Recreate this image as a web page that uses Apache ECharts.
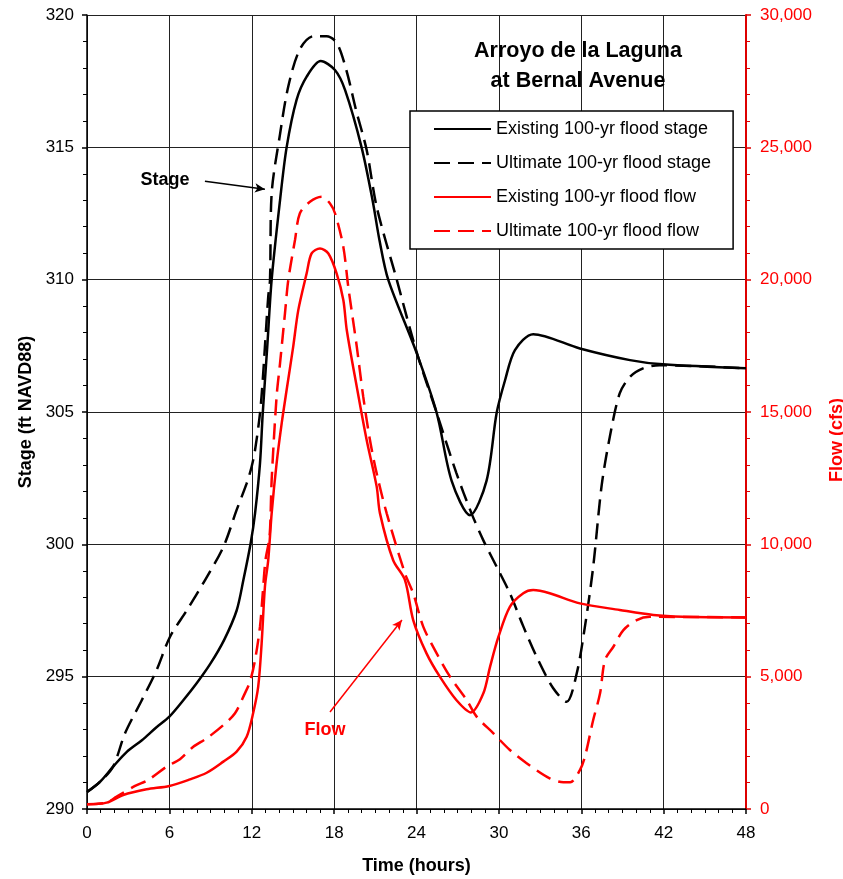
<!DOCTYPE html>
<html><head><meta charset="utf-8">
<script src="https://cdn.jsdelivr.net/npm/echarts@6/dist/echarts.min.js"></script>
<style>html,body{margin:0;padding:0;background:#fff}#c{width:843px;height:879px}</style>
</head><body><div id="c"></div>
<script>
// Time (hours), value pairs
var existingStage = [[0,290.64],[0.95,291.03],[1.9,291.6],[2.9,292.16],[4,292.6],[5,293.06],[6,293.49],[7,294.1],[8,294.76],[9,295.5],[10,296.4],[10.9,297.5],[11.39,298.65],[11.92,300.04],[12.24,301.17],[12.6,303.06],[12.8,304.95],[13.13,307.47],[13.45,310.0],[14.06,313.0],[14.54,315.0],[15.27,316.8],[16.0,317.67],[17.02,318.26],[18.06,317.92],[18.8,317.16],[20.0,315.0],[20.8,313.0],[21.3,311.5],[21.94,310.0],[23.96,307.3],[25.47,304.97],[26.56,302.4],[27.9,301.1],[29.1,302.4],[29.84,304.97],[30.45,306.2],[31.17,307.34],[32.5,307.94],[35.9,307.4],[39.55,306.96],[41.95,306.8],[48,306.65]];
var ultimateStage = [[0,290.64],[0.95,291.03],[1.9,291.6],[2.77,292.86],[3.98,294.1],[5.07,295.25],[6.04,296.5],[7.26,297.5],[8.6,298.65],[9.93,299.9],[10.9,301.3],[11.63,302.3],[11.99,302.93],[12.24,303.56],[12.6,304.95],[12.8,306.2],[12.96,307.47],[13.2,309.35],[13.33,310.0],[13.45,313.26],[14.06,315.5],[14.66,317.3],[15.5,318.7],[16.5,319.2],[17.45,319.2],[18.2,318.94],[18.9,317.9],[19.6,316.4],[20.37,314.9],[21.1,312.75],[22.56,310.0],[24.0,307.28],[25.47,304.97],[26.9,302.7],[28.0,301.18],[28.86,300.16],[29.84,299.15],[30.8,298.15],[31.78,296.9],[32.75,295.75],[33.96,294.56],[34.93,294.05],[35.66,295.1],[36.27,296.9],[36.87,299.15],[37.48,302.2],[38.08,304.06],[38.8,305.7],[39.55,306.33],[40.5,306.65],[41.7,306.77],[48,306.65]];
var existingFlow = [[0,177],[1.43,240],[2.64,530],[4.34,744],[6.0,870],[7.5,1120],[8.72,1370],[9.93,1790],[10.9,2170],[11.63,2730],[12.1,3615],[12.47,4620],[12.72,6260],[12.96,8400],[13.2,9400],[13.45,11170],[13.81,13060],[14.18,14570],[14.54,15830],[15.02,17470],[15.39,18850],[16.0,20240],[16.36,20990],[16.97,21180],[17.58,20990],[18.18,20240],[18.67,19230],[18.92,18100],[19.65,15950],[20.37,13940],[21.1,12180],[21.34,11170],[22.3,9400],[23.16,8650],[23.76,7140],[24.73,5880],[25.7,5000],[26.9,4120],[27.97,3650],[28.87,4370],[29.36,5380],[29.97,6510],[30.8,7640],[31.78,8150],[32.5,8270],[33.7,8150],[35.9,7770],[38.8,7520],[41.25,7330],[43.4,7265],[48,7240]];
var ultimateFlow = [[0,177],[1.43,240],[2.16,465],[3.5,870],[4.46,1100],[5.8,1600],[6.77,1880],[7.74,2350],[8.72,2670],[9.93,3170],[10.78,3615],[11.5,4370],[11.87,4810],[12.24,5630],[12.6,6890],[12.8,8150],[13.0,9400],[13.3,10300],[13.45,12430],[13.81,15580],[14.06,16840],[14.42,18730],[14.66,19980],[15.15,21500],[15.5,22500],[16.24,22940],[17.1,23130],[17.7,22880],[18.07,22500],[18.67,21240],[19.03,19730],[19.65,17470],[20.12,15580],[20.61,13940],[21.1,12680],[21.83,11170],[23.16,8900],[23.76,8150],[24.49,6890],[25.47,5880],[26.44,5000],[27.65,4120],[28.38,3490],[29.6,2860],[30.8,2230],[32.02,1730],[33.7,1160],[34.7,1010],[35.2,1010],[35.9,1470],[36.27,1980],[36.87,3360],[37.37,4370],[37.73,5630],[38.34,6130],[39.07,6760],[40.04,7140],[41,7260],[48,7240]];
var seriesNames = ['Existing 100-yr flood stage','Ultimate 100-yr flood stage','Existing 100-yr flood flow','Ultimate 100-yr flood flow'];
var titleLines = ['Arroyo de la Laguna','at Bernal Avenue'];
var stageArrow = [[8.59,313.72],[12.96,313.42]];
var stageLabel = [5.68,313.76];
var flowArrow = [[17.7,3665],[22.94,7140]];
var flowLabel = [17.33,2985];

var FONT = '"Liberation Sans", Arial, sans-serif';
var chart = echarts.init(document.getElementById('c'), null, {renderer:'canvas'});
function thousands(v){return v.toString().replace(/\B(?=(\d{3})+(?!\d))/g, ',');}
chart.setOption({
  animation:false,
  textStyle:{fontFamily:FONT},
  title:{text:titleLines.join('\n'), left:573, textAlign:'center', top:31,
    textStyle:{fontFamily:FONT, fontSize:21.5, fontWeight:'bold', color:'#000', lineHeight:30}},
  legend:{orient:'vertical', left:410, top:111,
    backgroundColor:'#fff', borderColor:'#000', borderWidth:1.5,
    padding:[8,22,8,23], itemWidth:57, itemHeight:20, itemGap:14,
    itemStyle:{opacity:0},
    textStyle:{fontFamily:FONT, fontSize:18, color:'#000', lineHeight:20},
    data:seriesNames},
  grid:{left:87, right:97, top:15, bottom:70, containLabel:false, outerBoundsMode:'none'},
  xAxis:{type:'value', min:0, max:48, interval:6,
    name:'Time (hours)', nameLocation:'middle', nameGap:48,
    nameTextStyle:{fontFamily:FONT, fontSize:18, fontWeight:'bold', color:'#000'},
    axisLine:{onZero:false, lineStyle:{color:'#000', width:1.5}},
    axisTick:{length:5, lineStyle:{color:'#000', width:1.5}},
    minorTick:{show:true, splitNumber:6, length:4, lineStyle:{color:'#000', width:1}},
    axisLabel:{fontFamily:FONT, fontSize:17, color:'#000', margin:16},
    splitLine:{show:true, lineStyle:{color:'#222', width:1}}},
  yAxis:[{type:'value', min:290, max:320, interval:5, position:'left',
    name:'Stage (ft NAVD88)', nameLocation:'middle', nameGap:52, nameRotate:90,
    nameTextStyle:{fontFamily:FONT, fontSize:18, fontWeight:'bold', color:'#000'},
    axisLine:{show:true, lineStyle:{color:'#000', width:1.5}},
    axisTick:{show:true, length:5, lineStyle:{color:'#000', width:1.5}},
    minorTick:{show:true, splitNumber:5, length:4, lineStyle:{color:'#000', width:1}},
    axisLabel:{fontFamily:FONT, fontSize:17, color:'#000', margin:13},
    splitLine:{show:true, lineStyle:{color:'#222', width:1}}},
   {type:'value', min:0, max:30000, interval:5000, position:'right',
    name:'Flow (cfs)', nameLocation:'middle', nameGap:82, nameRotate:90,
    nameTextStyle:{fontFamily:FONT, fontSize:18, fontWeight:'bold', color:'#ff0000', padding:[0,56,0,0]},
    axisLine:{show:true, lineStyle:{color:'#dd0000', width:2}},
    axisTick:{show:true, length:5, lineStyle:{color:'#dd0000', width:1.5}},
    minorTick:{show:true, splitNumber:5, length:4, lineStyle:{color:'#dd0000', width:1}},
    axisLabel:{fontFamily:FONT, fontSize:17, color:'#ff0000', margin:14, formatter:thousands},
    splitLine:{show:false}}],
  series:[
    {name:seriesNames[0], type:'line', yAxisIndex:0, data:existingStage, showSymbol:false, symbol:'none', smooth:0.3,
     lineStyle:{color:'#000', width:2.5}, itemStyle:{color:'#000'},
     markLine:{silent:true, symbol:['none','arrow'], symbolSize:[7,10], label:{show:false},
       lineStyle:{color:'#000', width:1.5, type:'solid'},
       data:[[{coord:stageArrow[0]},{coord:stageArrow[1]}]]},
     markPoint:{silent:true, symbol:'circle', symbolSize:0,
       label:{show:true, position:'inside', formatter:'Stage', fontFamily:FONT, fontSize:18, fontWeight:'bold', color:'#000'},
       data:[{coord:stageLabel}]}},
    {name:seriesNames[1], type:'line', yAxisIndex:0, data:ultimateStage, showSymbol:false, symbol:'none', smooth:0.3,
     lineStyle:{color:'#000', width:2.5, type:[16,8]}, itemStyle:{color:'#000'}},
    {name:seriesNames[2], type:'line', yAxisIndex:1, data:existingFlow, showSymbol:false, symbol:'none', smooth:0.3,
     lineStyle:{color:'#ff0000', width:2.5}, itemStyle:{color:'#ff0000'},
     markLine:{silent:true, symbol:['none','arrow'], symbolSize:[7,10], label:{show:false},
       lineStyle:{color:'#ff0000', width:1.5, type:'solid'},
       data:[[{coord:flowArrow[0]},{coord:flowArrow[1]}]]},
     markPoint:{silent:true, symbol:'circle', symbolSize:0,
       label:{show:true, position:'inside', formatter:'Flow', fontFamily:FONT, fontSize:18, fontWeight:'bold', color:'#ff0000'},
       data:[{coord:flowLabel}]}},
    {name:seriesNames[3], type:'line', yAxisIndex:1, data:ultimateFlow, showSymbol:false, symbol:'none', smooth:0.3,
     lineStyle:{color:'#ff0000', width:2.5, type:[16,8]}, itemStyle:{color:'#ff0000'}}
  ]
});
</script></body></html>
